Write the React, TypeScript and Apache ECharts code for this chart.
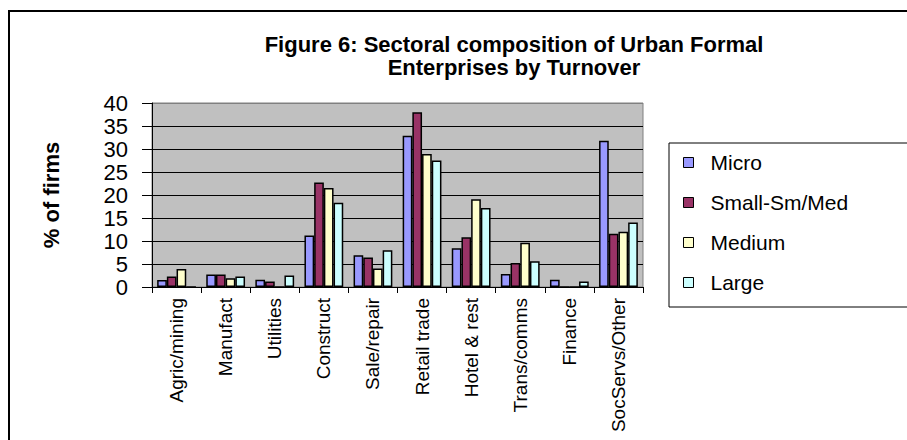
import React, { useEffect, useRef } from "react";
import * as echarts from "echarts";

const categories = [
  "Agric/mining",
  "Manufact",
  "Utilities",
  "Construct",
  "Sale/repair",
  "Retail trade",
  "Hotel & rest",
  "Trans/comms",
  "Finance",
  "SocServs/Other",
];
const seriesNames = ["Micro", "Small-Sm/Med", "Medium", "Large"];
const micro = [1.5, 2.7, 1.6, 11.2, 6.9, 32.9, 8.4, 2.8, 1.6, 31.8];
const smallMed = [2.3, 2.7, 1.2, 22.7, 6.4, 38.0, 10.8, 5.2, 0, 11.6];
const medium = [3.9, 1.9, 0, 21.5, 4.0, 28.9, 19.1, 9.6, 0, 12.0];
const large = [0, 2.3, 2.5, 18.3, 8.0, 27.5, 17.2, 5.6, 1.2, 14.0];
const colors = ["#9999FF", "#993366", "#FFFFCC", "#CCFFFF"];
const yMin = 0;
const yMax = 40;
const yStep = 5;

const FONT = "'Liberation Sans', Arial, sans-serif";

export default function App() {
  const ref = useRef<HTMLDivElement>(null);
  useEffect(() => {
    document.body.style.margin = "0";
    if (!ref.current) return;
    const chart = echarts.init(ref.current, undefined, { renderer: "svg" });
    const data = [micro, smallMed, medium, large];
    chart.setOption({
      animation: false,
      backgroundColor: "#ffffff",
      textStyle: { fontFamily: FONT },
      title: {
        text: "Figure 6: Sectoral composition of Urban Formal\nEnterprises by Turnover",
        left: 509,
        top: 28,
        textAlign: "center",
        textStyle: {
          fontFamily: FONT,
          fontWeight: "bold",
          fontSize: 22,
          lineHeight: 23,
          color: "#000",
        },
      },
      graphic: [
        {
          type: "rect",
          shape: { x: 9, y: 11, width: 1000, height: 1000 },
          style: { fill: "none", stroke: "#000", lineWidth: 2 },
          silent: true,
        },
      ],
      legend: {
        orient: "vertical",
        left: 669,
        top: 143,
        padding: [9, 260, 14, 14],
        icon: "rect",
        itemWidth: 10,
        itemHeight: 10,
        itemGap: 19,
        borderColor: "#000",
        borderWidth: 1,
        backgroundColor: "#fff",
        itemStyle: { borderColor: "#000", borderWidth: 1 },
        formatter: (name: string) => `{g|}${name}`,
        textStyle: {
          fontFamily: FONT,
          fontSize: 21,
          lineHeight: 20,
          color: "#000",
          rich: {
            g: { width: 12, height: 10 },
          },
        },
        data: seriesNames,
      },
      grid: {
        left: 152,
        right: 264,
        top: 103,
        bottom: 153,
        show: true,
        backgroundColor: "#C0C0C0",
        borderColor: "#808080",
        borderWidth: 1,
      },
      xAxis: {
        type: "category",
        data: categories,
        axisLine: { show: true, lineStyle: { color: "#000", width: 1 } },
        axisTick: { show: true, length: 6, lineStyle: { color: "#000" } },
        axisLabel: {
          interval: 0,
          rotate: 90,
          margin: 11,
          fontFamily: FONT,
          fontSize: 19,
          color: "#000",
        },
        splitLine: { show: false },
      },
      yAxis: {
        type: "value",
        min: yMin,
        max: yMax,
        interval: yStep,
        name: "% of firms",
        nameLocation: "middle",
        nameGap: 90,
        nameRotate: 90,
        nameTextStyle: {
          fontFamily: FONT,
          fontWeight: "bold",
          fontSize: 22,
          color: "#000",
        },
        axisLine: { show: true, lineStyle: { color: "#000", width: 1 } },
        axisTick: { show: true, length: 10, lineStyle: { color: "#000" } },
        axisLabel: {
          margin: 24,
          fontFamily: FONT,
          fontSize: 22,
          color: "#000",
        },
        splitLine: {
          show: true,
          lineStyle: {
            color: ["#000", "#000", "#000", "#000", "#000", "#000", "#000", "#000", "#808080"],
            width: 1,
          },
        },
      },
      series: seriesNames.map((name, i) => ({
        name,
        type: "bar",
        data: data[i],
        barGap: "0%",
        barCategoryGap: "21%",
        itemStyle: {
          color: colors[i],
          borderColor: "#000",
          borderWidth: 1.5,
        },
      })),
    });
    return () => chart.dispose();
  }, []);
  return <div ref={ref} style={{ width: 907, height: 440 }} />;
}
